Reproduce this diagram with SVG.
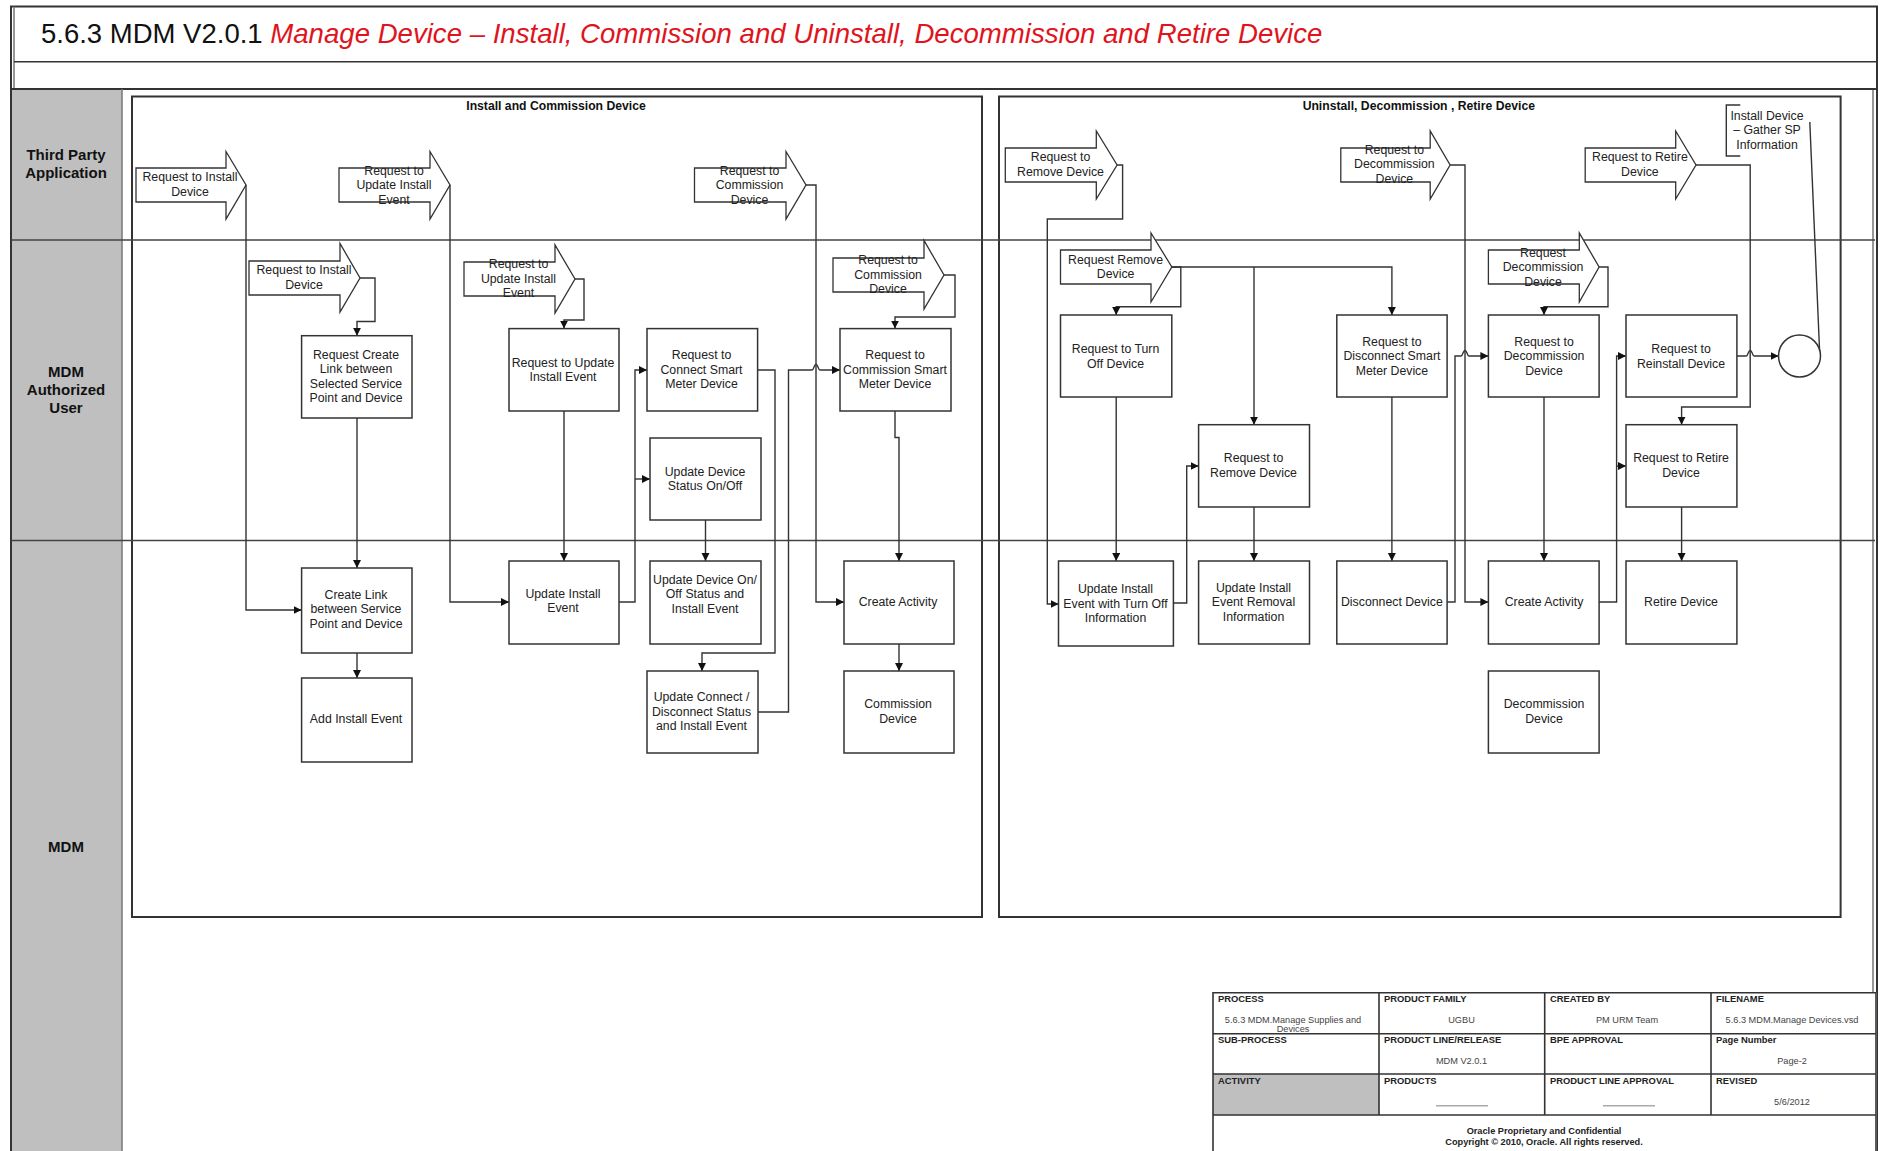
<svg xmlns="http://www.w3.org/2000/svg" width="1883" height="1151" viewBox="0 0 1883 1151">
<style>
text{font-family:"Liberation Sans",Arial,sans-serif;fill:#222;text-anchor:middle;font-size:12.300px}
.lane{font-weight:bold;font-size:15px;fill:#111}
.sec{font-weight:bold;font-size:12.200px;fill:#111}
.lbl{font-weight:bold;font-size:9.400px;text-anchor:start;fill:#222}
.val{font-size:9.200px;fill:#444}
.foot{font-weight:bold;font-size:9.200px}
.box{fill:#fff;stroke:#333;stroke-width:1.5}
.arr{fill:#fff;stroke:#333;stroke-width:1.3}
.c{fill:none;stroke:#333;stroke-width:1.4}
.ca{fill:none;stroke:#333;stroke-width:1.4;marker-end:url(#ah)}
.fr{fill:none;stroke:#333;stroke-width:2}
.tb{fill:none;stroke:#333;stroke-width:1.6}
</style>
<defs><marker id="ah" markerUnits="userSpaceOnUse" markerWidth="10" markerHeight="10" refX="8" refY="4" orient="auto"><path d="M0,0L8,4L0,8Z" fill="#111"/></marker></defs>
<rect width="1883" height="1151" fill="#fff"/>
<g id="frame">
<rect x="11" y="89" width="111" height="1062" fill="#bfbfbf"/>
<path class="fr" d="M11,1151V6.500H1877V1151"/>
<path d="M14,6.500V89M1873,89V992" fill="none" stroke="#777" stroke-width="1.500"/>
<path class="tb" d="M14,61.700H1877"/><path class="fr" d="M11,89H1877"/>
<path d="M122,89V1151" fill="none" stroke="#777" stroke-width="1.500"/>
<text class="lane" x="66" y="160">Third Party</text><text class="lane" x="66" y="178">Application</text>
<text class="lane" x="66" y="377">MDM</text><text class="lane" x="66" y="395">Authorized</text><text class="lane" x="66" y="413">User</text>
<text class="lane" x="66" y="852">MDM</text>
<text x="41" y="43" style="font-size:27.500px;text-anchor:start;fill:#111">5.6.3 MDM V2.0.1 <tspan fill="#e0141c" font-style="italic" font-size="27.600px">Manage Device – Install, Commission and Uninstall, Decommission and Retire Device</tspan></text>
</g>
<g id="sections">
<rect class="fr" x="132" y="96.500" width="850" height="820.500" fill="#fff"/>
<rect class="fr" x="999" y="96.500" width="841.600" height="820.500" fill="#fff"/>
<text class="sec" x="556" y="110">Install and Commission Device</text>
<text class="sec" x="1418.800" y="110">Uninstall, Decommission , Retire Device</text>
</g>
<g id="lanes"><path d="M11,240H1875M11,540.500H1875" fill="none" stroke="#444" stroke-width="1.600"/></g>
<g id="arrows">
<g id="a1"><path class="arr" d="M136,168H226V151.500L246,185L226,219V202H136Z"/><text x="190" y="180.500">Request to Install</text><text x="190" y="195.500">Device</text></g>
<g id="a2"><path class="arr" d="M339,168H430V151.500L450,185L430,219V202H339Z"/><text x="394" y="174.500">Request to</text><text x="394" y="189">Update Install</text><text x="394" y="203.500">Event</text></g>
<g id="a3"><path class="arr" d="M694.500,168H786V151.500L806,185L786,219V202H694.500Z"/><text x="749.500" y="174.500">Request to</text><text x="749.500" y="189">Commission</text><text x="749.500" y="203.500">Device</text></g>
<g id="a4"><path class="arr" d="M249,261H340V243.500L360,278L340,312V295H249Z"/><text x="304" y="273.500">Request to Install</text><text x="304" y="288.500">Device</text></g>
<g id="a5"><path class="arr" d="M464,262H555V245L575,279L555,313V296H464Z"/><text x="518.500" y="268">Request to</text><text x="518.500" y="282.500">Update Install</text><text x="518.500" y="297">Event</text></g>
<g id="a6"><path class="arr" d="M833,258H924V240.500L944,275L924,309V292H833Z"/><text x="888" y="263.500">Request to</text><text x="888" y="278.500">Commission</text><text x="888" y="293">Device</text></g>
<g id="a7"><path class="arr" d="M1005.300,148H1096.300V131L1117.100,165L1096.300,199V182H1005.300Z"/><text x="1060.500" y="161">Request to</text><text x="1060.500" y="175.500">Remove  Device</text></g>
<g id="a8"><path class="arr" d="M1340.800,148H1430.200V131L1450.100,165L1430.200,199V182H1340.800Z"/><text x="1394.400" y="153.500">Request to</text><text x="1394.400" y="168">Decommission</text><text x="1394.400" y="182.500">Device</text></g>
<g id="a9"><path class="arr" d="M1585.200,148H1675.700V131L1696,165L1675.700,199V182H1585.200Z"/><text x="1639.900" y="161">Request to Retire</text><text x="1639.900" y="175.500">Device</text></g>
<g id="a10"><path class="arr" d="M1060.500,250H1151V233L1171.800,267L1151,302V284H1060.500Z"/><text x="1115.600" y="263.500">Request Remove</text><text x="1115.600" y="278">Device</text></g>
<g id="a11"><path class="arr" d="M1488.400,250H1579.300V233L1599.100,267L1579.300,302V284H1488.400Z"/><text x="1543" y="256.500">Request</text><text x="1543" y="270.500">Decommission</text><text x="1543" y="285.500">Device</text></g>
</g>
<g id="connectors">
<path class="ca" d="M246,185V610H301.600"/>
<path class="ca" d="M450,185V602H509"/>
<path class="ca" d="M806,185H816V602H844"/>
<path class="ca" d="M360,278H375V321.500H357V335.700"/>
<path class="ca" d="M575,279H584V320H564V328.600"/>
<path class="ca" d="M944,275H955V317H895V328.600"/>
<path class="ca" d="M357,418V568"/>
<path class="ca" d="M357,653V678"/>
<path class="ca" d="M564,411V561"/>
<path class="ca" d="M705.500,520V561"/>
<path class="ca" d="M895,411V437.500H899V561"/>
<path class="ca" d="M899,644V671"/>
<path class="ca" d="M619,602H635V370H647"/>
<path class="ca" d="M635,479H650"/>
<path class="ca" d="M757.600,370H775V653H702V671"/>
<path class="ca" d="M757.600,712H788.500V370H812Q813,370 814,367Q816,362 818,367Q819,370 820,370H840"/>
<path class="ca" d="M1117.100,165H1122.600V219H1047.300V604H1058.500"/>
<path class="ca" d="M1450.100,165H1465V602H1488.400"/>
<path class="ca" d="M1696,165H1750.200V407H1681.600V424.700"/>
<path class="ca" d="M1171.800,267H1180.800V306.700H1116.200V315"/>
<path class="ca" d="M1171.800,267H1391.900V315"/>
<path class="ca" d="M1254,267V424.700"/>
<path class="ca" d="M1599.100,267H1608V306.700H1544V315"/>
<path class="ca" d="M1116.200,397V561"/>
<path class="ca" d="M1254,507V561"/>
<path class="ca" d="M1391.900,397V561"/>
<path class="ca" d="M1544,397V561"/>
<path class="ca" d="M1681.600,507V561"/>
<path class="ca" d="M1173.400,603H1186.700V466H1198.600"/>
<path class="ca" d="M1447.100,602H1455V356H1461Q1462,356 1463,353Q1465,348 1467,353Q1468,356 1469,356H1488.400"/>
<path class="ca" d="M1599.100,602H1616.600V356H1626"/>
<path class="ca" d="M1616.600,466H1626"/>
<path class="ca" d="M1736.900,356H1746.200Q1747.200,356 1748.200,353Q1750.200,348 1752.200,353Q1753.200,356 1754.200,356H1778.500"/>
<path class="c" d="M1809.800,122L1819.800,356"/>
</g>
<g id="n1"><rect class="box" x="301.600" y="335.700" width="110.400" height="82.300"/><text x="356" y="358.500">Request Create</text><text x="356" y="373">Link between</text><text x="356" y="387.500">Selected Service</text><text x="356" y="402">Point and Device</text></g>
<g id="n2"><rect class="box" x="509" y="328.600" width="110" height="82.400"/><text x="563" y="366.500">Request to Update</text><text x="563" y="381">Install Event</text></g>
<g id="n3"><rect class="box" x="647" y="328.600" width="110.600" height="82.400"/><text x="701.500" y="359">Request to</text><text x="701.500" y="373.500">Connect Smart</text><text x="701.500" y="388">Meter Device</text></g>
<g id="n4"><rect class="box" x="650" y="438" width="111" height="82"/><text x="705" y="475.500">Update Device</text><text x="705" y="490">Status On/Off</text></g>
<g id="n5"><rect class="box" x="840" y="328.600" width="111" height="82.400"/><text x="895" y="359">Request to</text><text x="895" y="373.500">Commission Smart</text><text x="895" y="388">Meter  Device</text></g>
<g id="n6"><rect class="box" x="301.600" y="568" width="110.400" height="85"/><text x="356" y="598.500">Create Link</text><text x="356" y="613">between Service</text><text x="356" y="627.500">Point and Device</text></g>
<g id="n7"><rect class="box" x="301.600" y="678" width="110.400" height="84"/><text x="356" y="723">Add Install Event</text></g>
<g id="n8"><rect class="box" x="509" y="561" width="110" height="83"/><text x="563" y="597.500">Update Install</text><text x="563" y="612">Event</text></g>
<g id="n9"><rect class="box" x="650" y="561" width="111" height="83"/><text x="705" y="584">Update Device On/</text><text x="705" y="598">Off Status and</text><text x="705" y="613">Install Event</text></g>
<g id="n10"><rect class="box" x="844" y="561" width="110" height="83"/><text x="898" y="606">Create Activity</text></g>
<g id="n11"><rect class="box" x="647" y="671" width="111" height="82"/><text x="701.500" y="701">Update Connect /</text><text x="701.500" y="715.500">Disconnect Status</text><text x="701.500" y="729.500">and Install Event</text></g>
<g id="n12"><rect class="box" x="844" y="671" width="110" height="82"/><text x="898" y="708">Commission</text><text x="898" y="722.500">Device</text></g>
<g id="n13"><rect class="box" x="1060.500" y="315" width="111.300" height="82"/><text x="1115.500" y="352.500">Request to Turn</text><text x="1115.500" y="367.500">Off  Device</text></g>
<g id="n14"><rect class="box" x="1336.800" y="315" width="110.300" height="82"/><text x="1391.900" y="345.500">Request to</text><text x="1391.900" y="360">Disconnect Smart</text><text x="1391.900" y="374.500">Meter Device</text></g>
<g id="n15"><rect class="box" x="1488.400" y="315" width="110.700" height="82"/><text x="1544" y="345.500">Request to</text><text x="1544" y="360">Decommission</text><text x="1544" y="374.500">Device</text></g>
<g id="n16"><rect class="box" x="1626" y="315" width="110.900" height="82"/><text x="1681" y="352.500">Request to</text><text x="1681" y="367.500">Reinstall Device</text></g>
<g id="n17"><rect class="box" x="1198.600" y="424.700" width="110.900" height="82.300"/><text x="1253.500" y="462">Request to</text><text x="1253.500" y="476.500">Remove  Device</text></g>
<g id="n18"><rect class="box" x="1626" y="424.700" width="110.900" height="82.300"/><text x="1681" y="462">Request to Retire</text><text x="1681" y="476.500">Device</text></g>
<g id="n19"><rect class="box" x="1058.500" y="561" width="114.900" height="85"/><text x="1115.500" y="593">Update Install</text><text x="1115.500" y="607.500">Event with Turn Off</text><text x="1115.500" y="621.500">Information</text></g>
<g id="n20"><rect class="box" x="1198.600" y="561" width="110.900" height="83"/><text x="1253.500" y="591.500">Update Install</text><text x="1253.500" y="606">Event Removal</text><text x="1253.500" y="620.500">Information</text></g>
<g id="n21"><rect class="box" x="1336.800" y="561" width="110.300" height="83"/><text x="1391.900" y="606">Disconnect Device</text></g>
<g id="n22"><rect class="box" x="1488.400" y="561" width="110.700" height="83"/><text x="1544" y="606">Create Activity</text></g>
<g id="n23"><rect class="box" x="1626" y="561" width="110.900" height="83"/><text x="1681" y="606">Retire Device</text></g>
<g id="n24"><rect class="box" x="1488.400" y="671" width="110.700" height="82"/><text x="1544" y="708">Decommission</text><text x="1544" y="722.500">Device</text></g>
<g id="n25"><circle class="box" cx="1799.500" cy="356" r="21"/></g>
<g id="note"><path class="c" d="M1740.300,105H1726.300V156H1740.300"/><text x="1767" y="119.500">Install Device</text><text x="1767" y="134">– Gather SP</text><text x="1767" y="148.500">Information</text></g>
<g id="titleblock">
<rect x="1213" y="992.700" width="664" height="158.300" fill="#fff"/>
<rect x="1213" y="1074" width="166" height="41" fill="#bfbfbf"/>
<path class="tb" d="M1213,1151V992.700H1876V1151M1213,1033.700H1876M1213,1074H1876M1213,1115H1876M1379,992.700V1115M1544.700,992.700V1115M1711,992.700V1115"/>
<path d="M1436,1105.700H1488M1603,1105.700H1655" stroke="#aaa" stroke-width="1.500" fill="none"/>
<text class="lbl" x="1218" y="1001.500">PROCESS</text><text class="lbl" x="1384" y="1001.500">PRODUCT FAMILY</text><text class="lbl" x="1550" y="1001.500">CREATED BY</text><text class="lbl" x="1716" y="1001.500">FILENAME</text>
<text class="lbl" x="1218" y="1042.500">SUB-PROCESS</text><text class="lbl" x="1384" y="1042.500">PRODUCT LINE/RELEASE</text><text class="lbl" x="1550" y="1042.500">BPE APPROVAL</text><text class="lbl" x="1716" y="1042.500">Page Number</text>
<text class="lbl" x="1218" y="1083.500">ACTIVITY</text><text class="lbl" x="1384" y="1083.500">PRODUCTS</text><text class="lbl" x="1550" y="1083.500">PRODUCT LINE APPROVAL</text><text class="lbl" x="1716" y="1083.500">REVISED</text>
<text class="val" x="1293" y="1022.500">5.6.3 MDM.Manage Supplies and</text><text class="val" x="1293" y="1032">Devices</text>
<text class="val" x="1461.500" y="1022.500">UGBU</text><text class="val" x="1627" y="1022.500">PM URM Team</text><text class="val" x="1792" y="1022.500">5.6.3 MDM.Manage Devices.vsd</text>
<text class="val" x="1461.500" y="1063.500">MDM V2.0.1</text><text class="val" x="1792" y="1063.500">Page-2</text><text class="val" x="1792" y="1105">5/6/2012</text>
<text class="foot" x="1544" y="1133.500">Oracle Proprietary and Confidential</text><text class="foot" x="1544" y="1144.500">Copyright © 2010, Oracle. All rights reserved.</text>
</g>
</svg>
